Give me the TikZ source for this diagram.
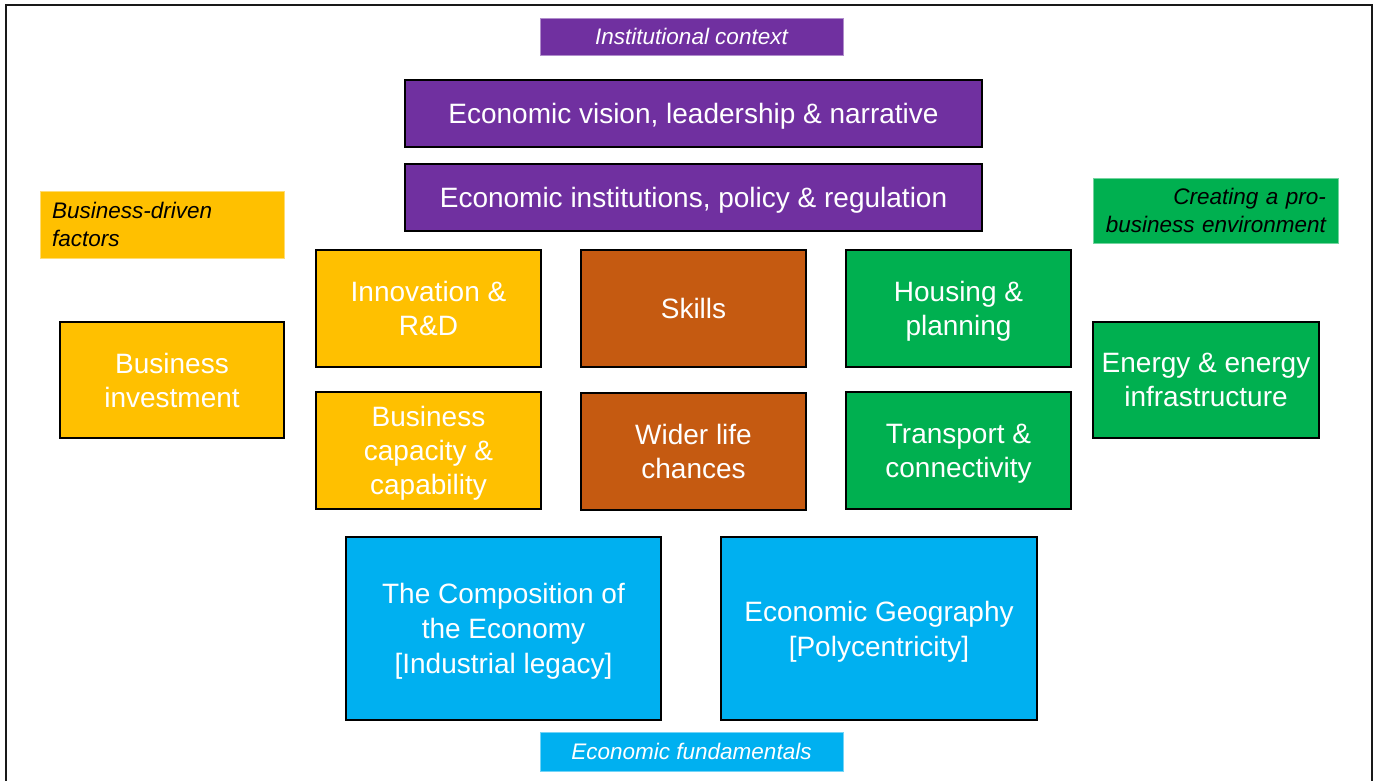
\documentclass[tikz,border=0pt]{standalone}
\usepackage{fontspec}
\setmainfont{Liberation Sans}
\usepackage[usenames,dvipsnames]{xcolor}
\definecolor{c_purple}{HTML}{7030A0}
\definecolor{c_yellow}{HTML}{FFC000}
\definecolor{c_orange}{HTML}{C55A11}
\definecolor{c_green}{HTML}{00B050}
\definecolor{c_blue}{HTML}{00B0F0}

\begin{document}
\begin{tikzpicture}[x=1pt,y=-1pt,
		tile/.style={draw=black,line width=2pt,inner sep=0pt,text depth=0pt,text=white,align=center,font=\fontsize{28}{34}\selectfont},
		cell/.style={tile,minimum width=225pt,minimum height=117pt},
		wide/.style={tile,minimum width=577pt,minimum height=67pt},
		base/.style={tile,minimum width=315pt,minimum height=183pt,font=\fontsize{28}{35}\selectfont},
		tag/.style={inner sep=0pt,line width=1pt,font=\fontsize{22.5}{28}\selectfont\itshape}]
		\clip (0,0) rectangle (1380,780);
		\draw[line width=2.5pt,black!90] (6,5) rectangle (1372,800);
		\node[tag,fill=c_purple,draw=c_purple!55,text=white,minimum width=303pt,minimum height=37pt] (p_ctx) at (691.5,36.5) {Institutional context};
		\node[tag,fill=c_yellow,draw=c_yellow!55,text=black,minimum width=244pt,minimum height=67pt,text width=220pt,align=left] (p_biz) at (162,224.5) {Business-driven\\factors};
		\node[tag,fill=c_green,draw=c_green!55,text=black,minimum width=245pt,minimum height=65pt,text width=221pt,align=right] (p_env) at (1215.5,210.5) {Creating a pro-\\business environment};
		\node[tag,fill=c_blue,draw=c_blue!55,text=white,minimum width=303pt,minimum height=39pt] (p_fund) at (691.5,751.5) {Economic fundamentals};
		\node[wide,fill=c_purple] (p_vision) at (693.5,113.5) {Economic vision, leadership \& narrative};
		\node[wide,fill=c_purple] (p_policy) at (693.5,197.5) {Economic institutions, policy \& regulation};
		\node[cell,fill=c_yellow] (p_innov) at (428.5,308.5) {Innovation \&\\R\&D};
		\node[cell,fill=c_orange] (p_skills) at (693.5,308.5) {Skills};
		\node[cell,fill=c_green] (p_housing) at (958.5,308.5) {Housing \&\\planning};
		\node[cell,fill=c_yellow,minimum width=224pt,minimum height=116pt] (p_invest) at (172,380) {Business\\investment};
		\node[cell,fill=c_green,minimum width=226pt,minimum height=116pt] (p_energy) at (1206,380) {Energy \& energy\\infrastructure};
		\node[cell,fill=c_yellow] (p_capac) at (428.5,450.5) {Business\\capacity \&\\capability};
		\node[cell,fill=c_orange] (p_life) at (693.5,451.5) {Wider life\\chances};
		\node[cell,fill=c_green] (p_transp) at (958.5,450.5) {Transport \&\\connectivity};
		\node[base,fill=c_blue] (p_comp) at (503.5,628.5) {The Composition of\\the Economy\\{[}Industrial legacy{]}};
		\node[base,fill=c_blue,minimum width=316pt] (p_geo) at (879,628.5) {Economic Geography\\{[}Polycentricity{]}};
	\end{tikzpicture}
\end{document}
